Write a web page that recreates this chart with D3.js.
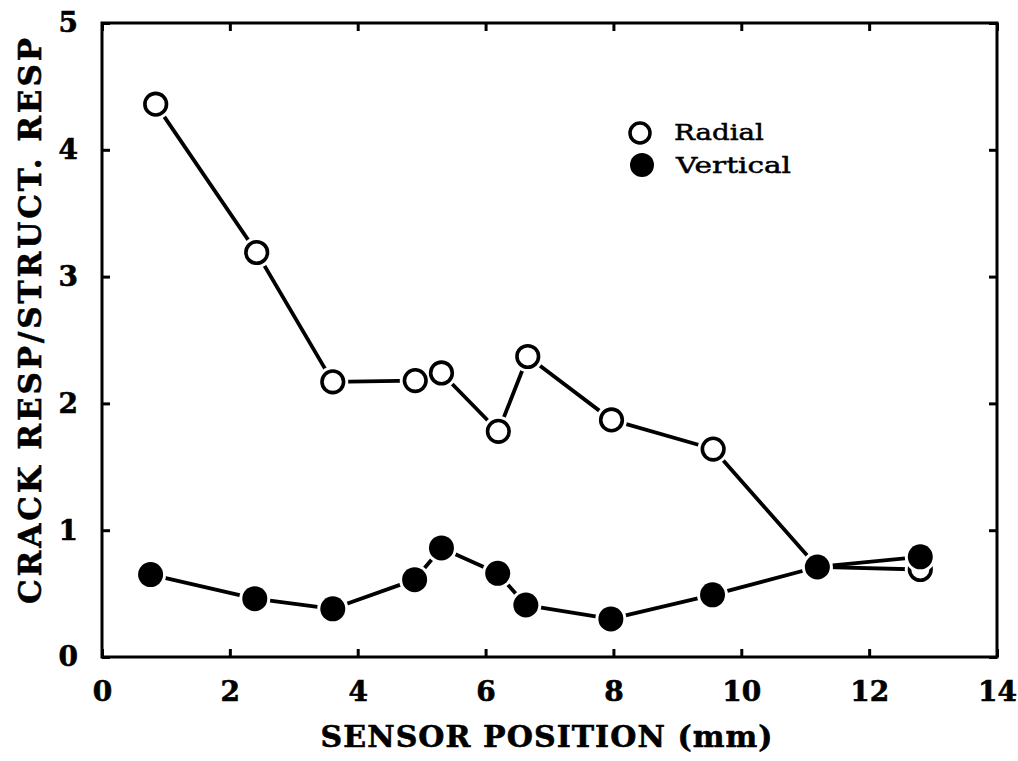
<!DOCTYPE html>
<html><head><meta charset="utf-8">
<script src="https://cdn.jsdelivr.net/npm/d3@7"></script>
<style>html,body{margin:0;padding:0;background:#fff;}</style>
</head><body>
<script>
const radialX = [0.84, 2.42, 3.61, 4.90, 5.31, 6.20, 6.66, 7.97, 9.56, 11.19, 12.80];
const radialY = [4.36, 3.19, 2.17, 2.18, 2.24, 1.78, 2.37, 1.87, 1.64, 0.71, 0.69];
const verticalX = [0.76, 2.39, 3.61, 4.89, 5.31, 6.19, 6.63, 7.96, 9.55, 11.19, 12.80];
const verticalY = [0.65, 0.46, 0.38, 0.61, 0.86, 0.66, 0.41, 0.30, 0.49, 0.71, 0.79];
const xTicks = [0, 2, 4, 6, 8, 10, 12, 14];
const yTicks = [0, 1, 2, 3, 4, 5];
const xTitle = "SENSOR POSITION (mm)";
const yTitle = "CRACK RESP/STRUCT. RESP";
const legendLabels = ["Radial", "Vertical"];

const W = 1018, H = 761;
const m = {l: 102, r: 21, t: 23, b: 104};
const svg = d3.select("body").append("svg").attr("width", W).attr("height", H);
const x = d3.scaleLinear().domain([0, 14]).range([m.l, W - m.r]);
const y = d3.scaleLinear().domain([0, 5]).range([H - m.b, m.t]);
const font = "'DejaVu Serif', serif";

// frame
svg.append("rect").attr("x", x(0)).attr("y", y(5)).attr("width", x(14) - x(0)).attr("height", y(0) - y(5))
  .attr("fill", "none").attr("stroke", "#000").attr("stroke-width", 3);

const tl = 8;
function styleAxis(g) {
  g.select(".domain").remove();
  g.selectAll(".tick line").attr("stroke", "#000").attr("stroke-width", 3);
  g.selectAll(".tick text").attr("font-family", font).attr("font-weight", "bold")
    .attr("font-size", 28).attr("fill", "#000").attr("stroke", "#000").attr("stroke-width", 0.6);
}
svg.append("g").attr("transform", `translate(0,${y(0)})`)
  .call(d3.axisBottom(x).tickValues(xTicks).tickSize(-tl).tickPadding(24).tickFormat(d3.format("d")))
  .call(styleAxis);
svg.append("g").attr("transform", `translate(0,${y(5)})`)
  .call(d3.axisTop(x).tickValues(xTicks).tickSize(-tl).tickFormat(""))
  .call(styleAxis);
svg.append("g").attr("transform", `translate(${x(0)},0)`)
  .call(d3.axisLeft(y).tickValues(yTicks).tickSize(-tl).tickPadding(24).tickFormat(d3.format("d")))
  .call(styleAxis);
svg.append("g").attr("transform", `translate(${x(14)},0)`)
  .call(d3.axisRight(y).tickValues(yTicks).tickSize(-tl).tickFormat(""))
  .call(styleAxis);

// titles
svg.append("text").attr("x", (x(0) + x(14)) / 2 - 3).attr("y", 747).attr("text-anchor", "middle")
  .attr("font-family", font).attr("font-weight", "bold").attr("font-size", 30)
  .attr("stroke", "#000").attr("stroke-width", 0.6)
  .attr("textLength", 452).attr("lengthAdjust", "spacing").text(xTitle);
svg.append("text").attr("transform", `translate(41,321) rotate(-90)`).attr("text-anchor", "middle")
  .attr("font-family", font).attr("font-weight", "bold").attr("font-size", 31)
  .attr("stroke", "#000").attr("stroke-width", 0.6)
  .attr("textLength", 566).attr("lengthAdjust", "spacing").text(yTitle);

const line = d3.line().x(d => x(d[0])).y(d => y(d[1]));
const radial = radialX.map((v, i) => [v, radialY[i]]);
const vertical = verticalX.map((v, i) => [v, verticalY[i]]);

function drawSeries(data, filled) {
  svg.append("path").datum(data).attr("d", line).attr("fill", "none")
    .attr("stroke", "#000").attr("stroke-width", 3.8).attr("stroke-linejoin", "round");
  const g = svg.append("g");
  g.selectAll("circle.halo").data(data).join("circle").attr("class", "halo")
    .attr("cx", d => x(d[0])).attr("cy", d => y(d[1])).attr("r", 15.5).attr("fill", "#fff");
  if (filled) {
    g.selectAll("circle.m").data(data).join("circle").attr("class", "m")
      .attr("cx", d => x(d[0])).attr("cy", d => y(d[1])).attr("r", 12.5).attr("fill", "#000");
  } else {
    g.selectAll("circle.m").data(data).join("circle").attr("class", "m")
      .attr("cx", d => x(d[0])).attr("cy", d => y(d[1])).attr("r", 10.8)
      .attr("fill", "#fff").attr("stroke", "#000").attr("stroke-width", 3.6);
  }
}
drawSeries(radial, false);
drawSeries(vertical, true);

// legend
const lg = svg.append("g");
lg.append("circle").attr("cx", 640).attr("cy", 133).attr("r", 10).attr("fill", "#fff")
  .attr("stroke", "#000").attr("stroke-width", 3.5);
lg.append("circle").attr("cx", 642).attr("cy", 165).attr("r", 12).attr("fill", "#000");
const lfont = "'DejaVu Serif', serif";
lg.append("text").attr("x", 674).attr("y", 140).attr("font-family", lfont).attr("font-size", 23)
  .attr("stroke", "#000").attr("stroke-width", 0.5)
  .attr("textLength", 90).attr("lengthAdjust", "spacingAndGlyphs").text(legendLabels[0]);
lg.append("text").attr("x", 676).attr("y", 173).attr("font-family", lfont).attr("font-size", 23)
  .attr("stroke", "#000").attr("stroke-width", 0.5)
  .attr("textLength", 115).attr("lengthAdjust", "spacingAndGlyphs").text(legendLabels[1]);
</script>
</body></html>
